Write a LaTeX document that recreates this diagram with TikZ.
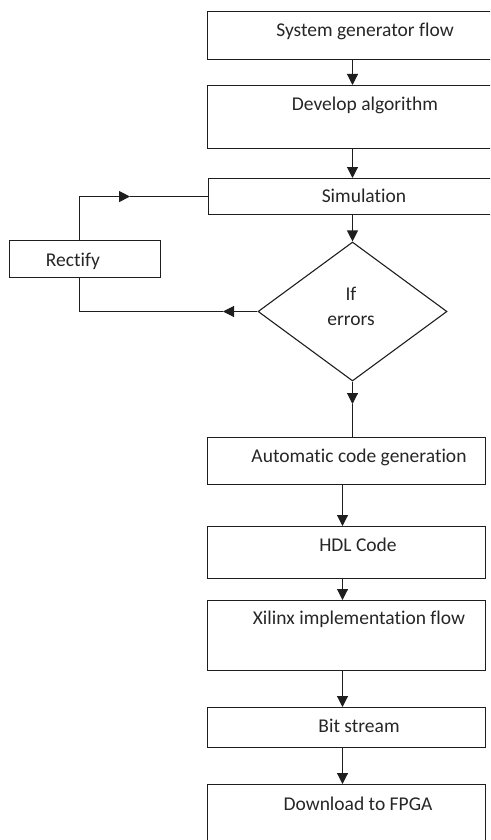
\documentclass[tikz,border=0pt]{standalone}
\usepackage{fontspec}
\setmainfont[Ligatures={NoCommon,NoRequired,NoContextual},RawFeature={-liga;-dlig;-clig}]{Carlito}
\usetikzlibrary{arrows.meta,shapes.geometric}
\definecolor{ink}{HTML}{1E1E1E}
\definecolor{txt}{HTML}{262626}
\begin{document}
\begin{tikzpicture}[x=1pt,y=-1pt,
  line/.style={draw=ink, line width=1.1pt},
  arr/.style={line, -{Triangle[width=11pt,length=11pt]}},
  box/.style={draw=ink, line width=1.1pt, rectangle, inner sep=0pt, anchor=north west},
  lbl/.style={text=txt, font=\fontsize{19.5}{26}\selectfont, inner sep=0pt, anchor=base}]
\useasboundingbox (0,0) rectangle (490,840);
\clip (0,0) rectangle (490,840);

% process boxes
\node[box, minimum width=290pt, minimum height=48pt] (gen) at (207,11) {};
\node[box, minimum width=290pt, minimum height=63pt] (alg) at (207,85) {};
\node[box, minimum width=290pt, minimum height=36pt] (sim) at (208,178) {};
\node[box, minimum width=151pt, minimum height=37pt] (rect) at (9,240) {};
\node[draw=ink, line width=1.1pt, diamond, inner sep=0pt, minimum width=189pt, minimum height=139pt] (dia) at (352.5,311.5) {};
\node[box, minimum width=278pt, minimum height=47pt] (auto) at (207,437) {};
\node[box, minimum width=278pt, minimum height=52pt] (hdl) at (207,526) {};
\node[box, minimum width=278pt, minimum height=70pt] (xil) at (207,600) {};
\node[box, minimum width=278pt, minimum height=40pt] (bit) at (207,707) {};
\node[box, minimum width=278pt, minimum height=70pt] (fpga) at (207,784) {};

% labels
\node[lbl] at (365,37) {System generator flow};
\node[lbl] at (365,111) {Develop algorithm};
\node[lbl] at (364,202) {Simulation};
\node[lbl] at (73,266) {Rectify};
\node[lbl] at (351,300) {If};
\node[lbl] at (351,325) {errors};
\node[lbl] at (359,462) {Automatic code generation};
\node[lbl] at (358,551) {HDL Code};
\node[lbl] at (359,624) {Xilinx implementation flow};
\node[lbl] at (359,732) {Bit stream};
\node[lbl] at (358,810) {Download to FPGA};

% helper coordinates
\coordinate (lx) at (79.5,0);
\coordinate (col) at (342.5,0);
\coordinate (tipA) at (130,0);
\coordinate (tipB) at (223,0);
\coordinate (tipC) at (0,404);

% main flow
\draw[arr] (gen.south -| dia.north) -- (alg.north -| dia.north);
\draw[arr] (alg.south -| dia.north) -- (sim.north -| dia.north);
\draw[arr] (sim.south -| dia.north) -- (dia.north);
\draw[arr] (dia.south) -- (dia.south |- tipC);
\draw[line] (dia.south |- tipC) -- (auto.north -| dia.south);
\draw[arr] (auto.south -| col) -- (hdl.north -| col);
\draw[arr] (hdl.south -| col) -- (xil.north -| col);
\draw[arr] (xil.south -| col) -- (bit.north -| col);
\draw[arr] (bit.south -| col) -- (fpga.north -| col);

% error loop through Rectify
\draw[arr] (dia.west) -- (tipB |- dia.west);
\draw[line] (tipB |- dia.west) -| (rect.south -| lx);
\draw[arr] (rect.north -| lx) |- (tipA |- sim.west);
\draw[line] (tipA |- sim.west) -- (sim.west);
\end{tikzpicture}
\end{document}
